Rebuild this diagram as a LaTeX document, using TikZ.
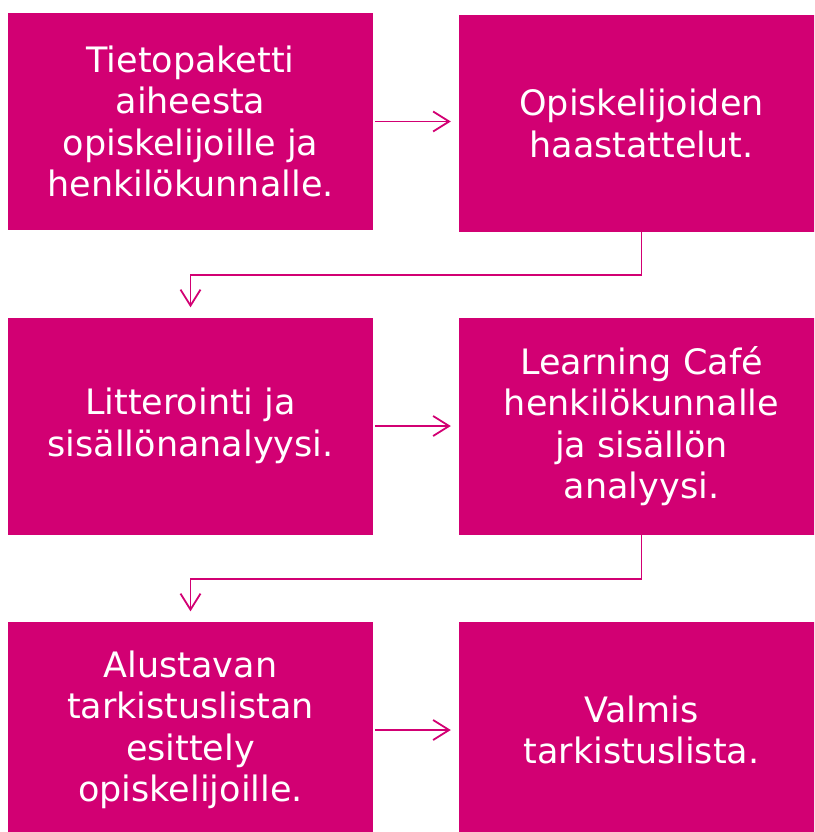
\documentclass[tikz,border=0pt]{standalone}
\usepackage{fontspec}
\setmainfont{DejaVu Sans}
\usetikzlibrary{arrows.meta}
\definecolor{mag}{RGB}{210,0,115}
\tikzset{
  box/.style={rectangle, fill=mag, draw=none, text=white, align=center,
    minimum width=365pt, minimum height=217pt, inner sep=0pt,
    font=\fontsize{35}{41.5}\selectfont},
  conn/.style={draw=mag, line width=1.8pt,
    -{Straight Barb[length=16pt,width=20pt,line width=1.8pt]}}
}
\begin{document}
\begin{tikzpicture}[x=1pt,y=-1pt]
\useasboundingbox (0,0) rectangle (814,832);
\clip (0,0) rectangle (814,832);
\node[box] (b1) at (190.5,121.5) {Tietopaketti\\aiheesta\\opiskelijoille ja\\henkilökunnalle.};
\node[box] (b2) at (641.5,123.5) {Opiskelijoiden\\haastattelut.};
\node[box] (b3) at (190.5,426) {Litterointi ja\\sisällönanalyysi.};
\node[box] (b4) at (641.5,426) {Learning Café\\henkilökunnalle\\ja sisällön\\analyysi.};
\node[box] (b5) at (190.5,730) {Alustavan\\tarkistuslistan\\esittely\\opiskelijoille.};
\node[box] (b6) at (641.5,730) {Valmis\\tarkistuslista.};
\draw[conn, shorten <=2pt, shorten >=8pt] (b1.east) -- (b1.east -| b2.west);
\draw[conn, shorten <=2pt, shorten >=8pt] (b3) -- (b4);
\draw[conn, shorten <=2pt, shorten >=8pt] (b5) -- (b6);
\draw[conn, shorten >=10pt] (b2.south) -- ++(0,43) -| (b3.north);
\draw[conn, shorten >=10pt] (b4.south) -- ++(0,44) -| (b5.north);
\end{tikzpicture}
\end{document}
